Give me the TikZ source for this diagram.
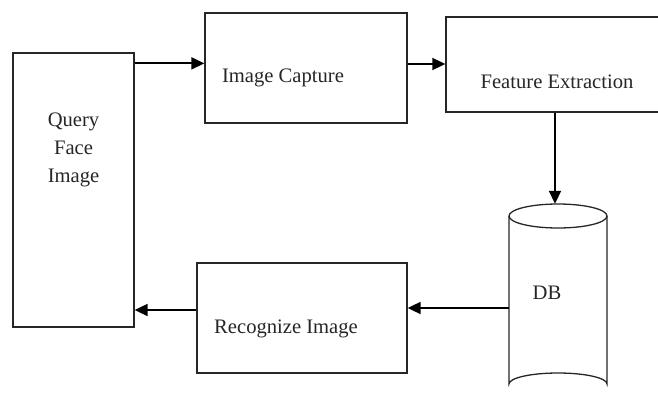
\documentclass[tikz,border=0pt]{standalone}
\usepackage{fontspec}
\setmainfont{Liberation Serif}
\usetikzlibrary{arrows.meta}
\begin{document}
\begin{tikzpicture}[x=1pt,y=-1pt,
  box/.style={draw=black!85,line width=1.3pt,inner sep=0pt},
  lbl/.style={inner sep=0pt,text=black!85,font=\fontsize{20.6}{28}\selectfont,align=center},
  arr/.style={draw=black,line width=1.8pt,-{Triangle[length=13pt,width=12pt]}}]
\useasboundingbox (0,0) rectangle (658,396);
\node[box,minimum width=121pt,minimum height=274pt] (q) at (73.5,190) {};
\node[box,minimum width=202pt,minimum height=110pt] (ic) at (306,68) {};
\node[box,minimum width=218pt,minimum height=95pt] (fe) at (555,64.5) {};
\node[box,minimum width=210pt,minimum height=110pt] (rec) at (302,318) {};
% DB cylinder
\node[inner sep=0pt,minimum width=98pt,minimum height=191pt] (db) at (558,299.5) {};
\draw[black!85,line width=1.3pt,fill=white] (509,216) -- (509,384) arc[start angle=180,end angle=360,x radius=49,y radius=11] -- (607,216);
\draw[black!85,line width=1.3pt] (558,216) ellipse[x radius=49,y radius=12];
% labels
\node[lbl] at (73.5,150) {Query\\Face\\Image};
\node[lbl] at (283,78) {Image Capture};
\node[lbl] at (557,82) {Feature Extraction};
\node[lbl] at (547,293) {DB};
\node[lbl] at (286,329) {Recognize Image};
% connectors
\draw[arr] ([yshift=-11pt]q.north east) -- ([yshift=-11pt]q.north east -| ic.west);
\draw[arr] ([yshift=4pt]ic.east) -- ([yshift=4pt]ic.east -| fe.west);
\draw[arr] (fe.south) -- (fe.south |- db.north);
\draw[arr] ([yshift=-8.5pt]db.west) -- ([yshift=-8.5pt]db.west -| rec.east);
\draw[arr] ([yshift=8pt]rec.west) -- ([yshift=8pt]rec.west -| q.east);
\end{tikzpicture}
\end{document}
